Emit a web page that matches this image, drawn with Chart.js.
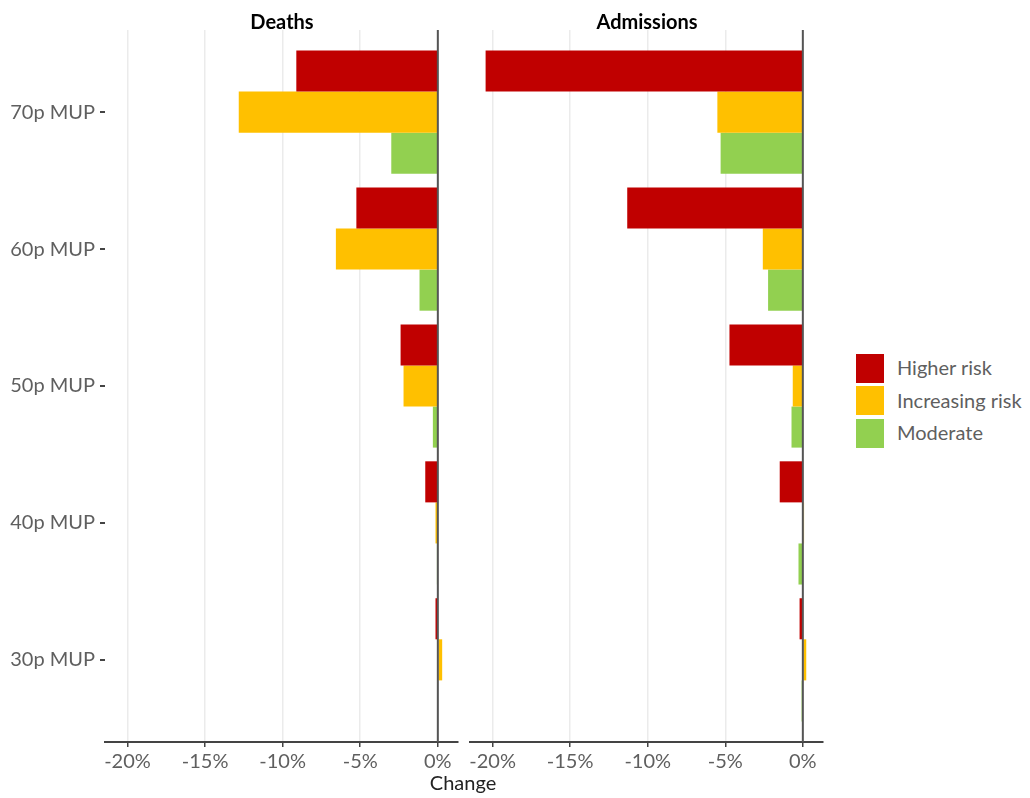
<!DOCTYPE html>
<html>
<head>
<meta charset="utf-8">
<title>MUP change by risk group</title>
<script src="https://cdn.jsdelivr.net/npm/chart.js@4.4.1/dist/chart.umd.min.js"></script>
<style>
  body { margin: 0; background: #fff; font-family: Lato, sans-serif; }
  #wrap { position: relative; width: 1030px; height: 798px; }
  canvas { position: absolute; top: 0; }
  .ptitle { position: absolute; top: 9px; line-height: 24px; font-size: 20px; font-weight: bold; color: #000; transform: translateX(-50%); white-space: nowrap; }
  #xtitle { position: absolute; top: 770px; left: 463px; line-height: 24px; font-size: 20px; color: #222; transform: translateX(-50%); }
  #legend { position: absolute; left: 856px; top: 352px; }
  .item { display: flex; align-items: center; height: 32.5px; }
  .swatch { width: 28px; height: 29px; margin-right: 13px; }
  .item span { font-size: 20px; color: #5f5f5f; margin-top: -2px; }
</style>
</head>
<body>
<div id="wrap">
  <canvas id="deaths" width="462" height="798" style="left:0"></canvas>
  <canvas id="admissions" width="360" height="798" style="left:466px"></canvas>
  <div class="ptitle" style="left:282px">Deaths</div>
  <div class="ptitle" style="left:647px">Admissions</div>
  <div id="xtitle">Change</div>
  <div id="legend"></div>
</div>
<script>
// price levels, top to bottom
const categories = ['70p MUP', '60p MUP', '50p MUP', '40p MUP', '30p MUP'];
const groups = ['Higher risk', 'Increasing risk', 'Moderate'];
const colours = ['#C00000', '#FFC000', '#92D050'];
const xTicks = [-20, -15, -10, -5, 0];

// % change in deaths
const deathsHigher     = [-9.12, -5.25, -2.40, -0.81, -0.15];
const deathsIncreasing = [-12.83, -6.57, -2.21, -0.15, 0.28];
const deathsModerate   = [-3.00, -1.18, -0.32, -0.06, -0.03];

// % change in admissions
const admHigher     = [-20.45, -11.32, -4.73, -1.49, -0.21];
const admIncreasing = [-5.51, -2.58, -0.65, 0.08, 0.22];
const admModerate   = [-5.30, -2.24, -0.73, -0.28, -0.08];

const xMin = -21.45, xMax = 1.3;
const tickGrey = '#5f5f5f';

Chart.defaults.font.family = 'Lato, sans-serif';

function toDatasets(series) {
    return series.map((values, i) => ({
        label: groups[i],
        data: values.map((v, j) => ({ x: v, y: j })),
        backgroundColor: colours[i],
        borderWidth: 0,
        categoryPercentage: 0.9,
        barPercentage: 1.0
    }));
}

// vertical line at 0%, drawn over the bars
const zeroLine = {
    id: 'zeroLine',
    afterDatasetsDraw(chart) {
        const { ctx, chartArea, scales } = chart;
        const x = scales.x.getPixelForValue(0);
        ctx.save();
        ctx.strokeStyle = '#555';
        ctx.lineWidth = 2;
        ctx.beginPath();
        ctx.moveTo(x, chartArea.top);
        ctx.lineTo(x, chartArea.bottom);
        ctx.stroke();
        ctx.restore();
    }
};

function makeChart(id, series, showLabels, padding) {
    const ctx = document.getElementById(id).getContext('2d');
    return new Chart(ctx, {
        type: 'bar',
        data: { datasets: toDatasets(series) },
        options: {
            indexAxis: 'y',
            responsive: false,
            animation: false,
            devicePixelRatio: 1,
            layout: { padding: padding },
            plugins: { legend: { display: false }, tooltip: { enabled: false } },
            scales: {
                x: {
                    type: 'linear',
                    min: xMin,
                    max: xMax,
                    afterBuildTicks: s => { s.ticks = xTicks.map(v => ({ value: v })); },
                    afterFit: s => { s.height = 56; },
                    grid: { color: '#ebebeb', lineWidth: 1.5, tickColor: '#444', tickLength: 5 },
                    border: { display: true, color: '#444', width: 2 },
                    ticks: {
                        callback: v => v + '%',
                        color: tickGrey,
                        font: { size: 20 },
                        padding: 3,
                        maxRotation: 0
                    }
                },
                y: {
                    type: 'linear',
                    display: showLabels,
                    reverse: true,
                    offset: false,
                    min: -0.6,
                    max: categories.length - 0.4,
                    afterBuildTicks: s => { s.ticks = categories.map((c, i) => ({ value: i })); },
                    afterFit: s => { if (showLabels) s.width = 105; },
                    grid: { offset: false, drawOnChartArea: false, drawTicks: true, tickLength: 5, tickColor: '#444', lineWidth: 2 },
                    border: { display: false },
                    ticks: {
                        callback: v => categories[v],
                        color: tickGrey,
                        font: { size: 20 },
                        padding: 5
                    }
                }
            }
        },
        plugins: [zeroLine]
    });
}

makeChart('deaths', [deathsHigher, deathsIncreasing, deathsModerate], true,
    { top: 30, right: 4, left: 0, bottom: 0 });
makeChart('admissions', [admHigher, admIncreasing, admModerate], false,
    { top: 30, right: 3, left: 4, bottom: 0 });

// legend
const legend = document.getElementById('legend');
groups.forEach((g, i) => {
    const item = document.createElement('div');
    item.className = 'item';
    item.innerHTML = `<div class="swatch" style="background:${colours[i]}"></div><span>${g}</span>`;
    legend.appendChild(item);
});
</script>
</body>
</html>
